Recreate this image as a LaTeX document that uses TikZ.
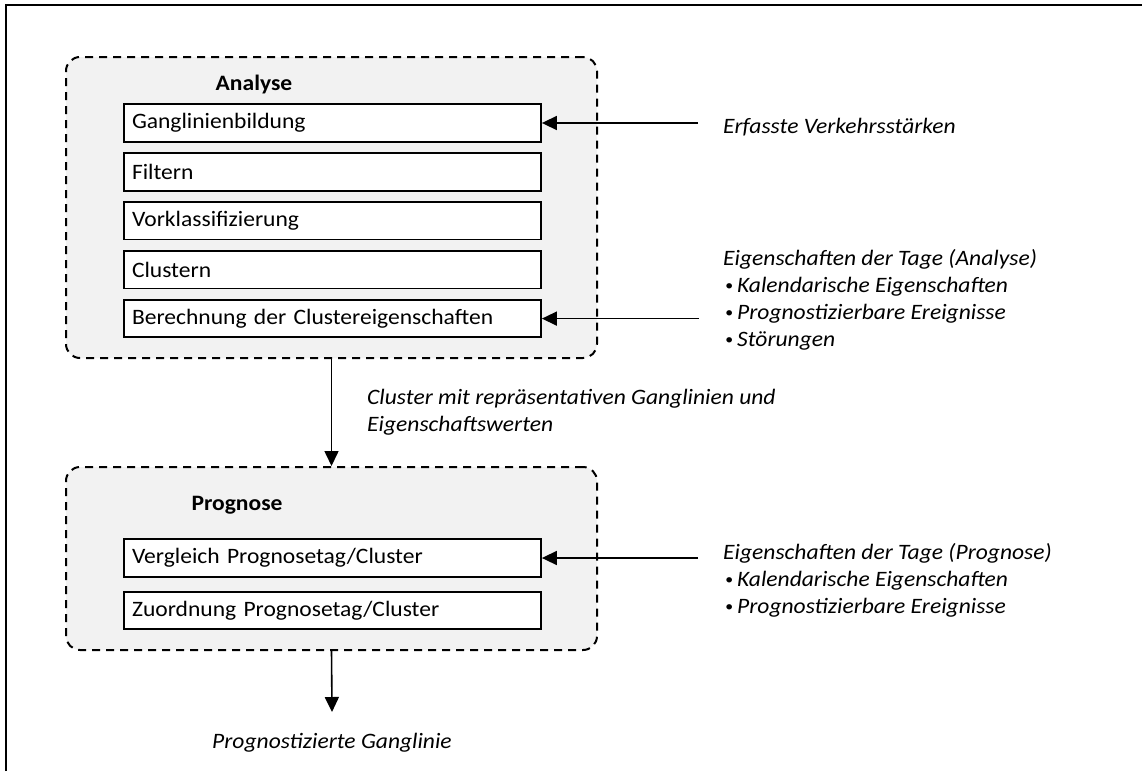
\documentclass[tikz,border=0pt]{standalone}
\usepackage{fontspec}
\setmainfont[FakeStretch=1.07]{Carlito}
\usepackage{tikz}
\usetikzlibrary{arrows.meta,positioning}
\definecolor{groupbg}{HTML}{F2F2F2}
\newcommand\diafont{\fontsize{22}{27}\selectfont}
\newcommand\bul{\hspace{2pt}\raisebox{1.5pt}{\fontsize{15}{15}\selectfont•}\hspace{4pt}}
\tikzset{
  ar/.style={-{Triangle[length=15pt,width=14pt]},line width=1.6pt},
  group/.style={draw,line width=2pt,dash pattern=on 8pt off 6pt,rounded corners=14pt,fill=groupbg,minimum width=531pt,inner sep=0pt},
  stepbox/.style={draw,line width=1.8pt,fill=white,font=\diafont,text width=401pt,inner xsep=8pt,inner ysep=0pt,minimum height=37.5pt,align=left},
  note/.style={font=\diafont\itshape,align=left,inner sep=0pt}
}

\begin{document}
\begin{tikzpicture}[x=1pt,y=-1pt]
\useasboundingbox (0,0) rectangle (1142,771);
\draw[line width=2.5pt] (6,771) -- (6,5) -- (1142,5);
% the two stages
\node[group,minimum height=301pt] (ana) at (331.5,207.5) {};
\node[group,minimum height=183pt] (prog) at (331.5,558.5) {};
\node[font=\diafont\bfseries] (anat) at (254,85) {Analyse};
\node[font=\diafont\bfseries] (progt) at (237,505) {Prognose};
\foreach \t [count=\i] in {Ganglinienbildung,Filtern,Vorklassifizierung,Clustern,Berechnung der Clustereigenschaften}
  \node[stepbox] (a\i) at (332.5,{123+48.9*(\i-1)}) {\t};
\node[stepbox] (p1) at (332.5,558) {Vergleich Prognosetag/Cluster};
\node[stepbox] (p2) at (332.5,610.5) {Zuordnung Prognosetag/Cluster};
% inputs and results
\node[note,anchor=west] (erf) at (723,127) {Erfasste Verkehrsstärken};
\node[note,anchor=west] (eiga) at (723,299.5) {Eigenschaften der Tage (Analyse)\\\bul Kalendarische Eigenschaften\\\bul Prognostizierbare Ereignisse\\\bul Störungen};
\node[note,anchor=west] (eigp) at (723,580) {Eigenschaften der Tage (Prognose)\\\bul Kalendarische Eigenschaften\\\bul Prognostizierbare Ereignisse};
\node[note,anchor=west] (clu) at (367,412) {Cluster mit repräsentativen Ganglinien und\\Eigenschaftswerten};
\node[note] (out) at (332,743) {Prognostizierte Ganglinie};
\coordinate (outtip) at (332,712);
\draw[ar,shorten <=25pt] (erf.west |- a1.east) -- (a1.east);
\draw[ar,shorten <=24pt] (eiga.west |- a5.east) -- (a5.east);
\draw[ar,shorten <=25pt] (eigp.west |- p1.east) -- (p1.east);
\draw[ar] (ana.south) -- (prog.north);
\draw[ar] (prog.south) -- (outtip);
\end{tikzpicture}
\end{document}
